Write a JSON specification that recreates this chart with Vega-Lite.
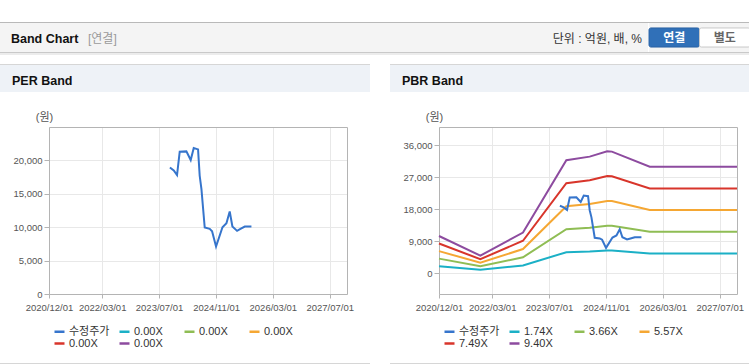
{
  "$schema": "https://vega.github.io/schema/vega-lite/v6.json",
  "padding": {"top": 22, "left": 0, "right": 0, "bottom": 0},
  "background": "#ffffff",
  "config": {
    "view": {"stroke": null},
    "font": "Liberation Sans, Noto Sans CJK KR",
    "concat": {"spacing": 0}
  },
  "datasets": {
    "price": [
      {"date": "2023-10-02", "series": "수정주가", "value": 18950},
      {"date": "2023-11-04", "series": "수정주가", "value": 18500},
      {"date": "2023-12-02", "series": "수정주가", "value": 17800},
      {"date": "2023-12-25", "series": "수정주가", "value": 21300},
      {"date": "2024-02-20", "series": "수정주가", "value": 21350},
      {"date": "2024-03-28", "series": "수정주가", "value": 20050},
      {"date": "2024-04-23", "series": "수정주가", "value": 21850},
      {"date": "2024-05-30", "series": "수정주가", "value": 21650},
      {"date": "2024-06-13", "series": "수정주가", "value": 17700},
      {"date": "2024-06-28", "series": "수정주가", "value": 15700},
      {"date": "2024-07-26", "series": "수정주가", "value": 9950},
      {"date": "2024-09-07", "series": "수정주가", "value": 9750},
      {"date": "2024-09-27", "series": "수정주가", "value": 9400},
      {"date": "2024-10-31", "series": "수정주가", "value": 7100},
      {"date": "2024-12-25", "series": "수정주가", "value": 10000},
      {"date": "2025-01-28", "series": "수정주가", "value": 10600},
      {"date": "2025-02-25", "series": "수정주가", "value": 12350},
      {"date": "2025-03-20", "series": "수정주가", "value": 10100},
      {"date": "2025-04-29", "series": "수정주가", "value": 9450},
      {"date": "2025-05-28", "series": "수정주가", "value": 9750},
      {"date": "2025-07-04", "series": "수정주가", "value": 10100},
      {"date": "2025-08-30", "series": "수정주가", "value": 10100}
    ],
    "perBands": [],
    "bands": [
      {"date": "2020-12-01", "series": "1.74X", "value": 1931},
      {"date": "2021-11-20", "series": "1.74X", "value": 908},
      {"date": "2022-11-20", "series": "1.74X", "value": 2114},
      {"date": "2023-11-26", "series": "1.74X", "value": 5881},
      {"date": "2024-06-13", "series": "1.74X", "value": 6073},
      {"date": "2024-11-10", "series": "1.74X", "value": 6351},
      {"date": "2024-12-20", "series": "1.74X", "value": 6334},
      {"date": "2025-11-09", "series": "1.74X", "value": 5542},
      {"date": "2027-11-26", "series": "1.74X", "value": 5542},
      {"date": "2020-12-01", "series": "3.66X", "value": 4063},
      {"date": "2021-11-20", "series": "3.66X", "value": 1911},
      {"date": "2022-11-20", "series": "3.66X", "value": 4447},
      {"date": "2023-11-26", "series": "3.66X", "value": 12371},
      {"date": "2024-06-13", "series": "3.66X", "value": 12773},
      {"date": "2024-11-10", "series": "3.66X", "value": 13359},
      {"date": "2024-12-20", "series": "3.66X", "value": 13322},
      {"date": "2025-11-09", "series": "3.66X", "value": 11657},
      {"date": "2027-11-26", "series": "3.66X", "value": 11657},
      {"date": "2020-12-01", "series": "5.57X", "value": 6183},
      {"date": "2021-11-20", "series": "5.57X", "value": 2908},
      {"date": "2022-11-20", "series": "5.57X", "value": 6768},
      {"date": "2023-11-26", "series": "5.57X", "value": 18827},
      {"date": "2024-06-13", "series": "5.57X", "value": 19439},
      {"date": "2024-11-10", "series": "5.57X", "value": 20331},
      {"date": "2024-12-20", "series": "5.57X", "value": 20275},
      {"date": "2025-11-09", "series": "5.57X", "value": 17741},
      {"date": "2027-11-26", "series": "5.57X", "value": 17741},
      {"date": "2020-12-01", "series": "7.49X", "value": 8314},
      {"date": "2021-11-20", "series": "7.49X", "value": 3910},
      {"date": "2022-11-20", "series": "7.49X", "value": 9100},
      {"date": "2023-11-26", "series": "7.49X", "value": 25316},
      {"date": "2024-06-13", "series": "7.49X", "value": 26140},
      {"date": "2024-11-10", "series": "7.49X", "value": 27339},
      {"date": "2024-12-20", "series": "7.49X", "value": 27264},
      {"date": "2025-11-09", "series": "7.49X", "value": 23856},
      {"date": "2027-11-26", "series": "7.49X", "value": 23856},
      {"date": "2020-12-01", "series": "9.40X", "value": 10434},
      {"date": "2021-11-20", "series": "9.40X", "value": 4907},
      {"date": "2022-11-20", "series": "9.40X", "value": 11421},
      {"date": "2023-11-26", "series": "9.40X", "value": 31772},
      {"date": "2024-06-13", "series": "9.40X", "value": 32806},
      {"date": "2024-11-10", "series": "9.40X", "value": 34310},
      {"date": "2024-12-20", "series": "9.40X", "value": 34216},
      {"date": "2025-11-09", "series": "9.40X", "value": 29939},
      {"date": "2027-11-26", "series": "9.40X", "value": 29939}
    ]
  },
  "resolve": {"scale": {"color": "independent"}, "legend": {"color": "independent"}},
  "spacing": 9,
  "vconcat": [
    {
      "spacing": 0,
      "vconcat": [
        {"width": 749, "height": 1, "data": {"values": [{}]}, "mark": {"type": "rect", "color": "#b9b9b9"}},
        {
          "spacing": 0,
          "hconcat": [
            {
              "width": 88, "height": 29,
              "data": {"values": [{}]},
              "mark": {"type": "rect", "color": "#f4f4f4"},
              "title": {"text": "Band Chart", "anchor": "start", "frame": "group", "orient": "top", "offset": -32, "baseline": "alphabetic", "dx": 11, "fontSize": 12.5, "fontWeight": "bold", "color": "#111111"}
            },
            {
              "width": 380, "height": 29,
              "data": {"values": [{}]},
              "mark": {"type": "rect", "color": "#f4f4f4"},
              "title": {"text": "[연결]", "anchor": "start", "frame": "group", "orient": "top", "offset": -32, "baseline": "alphabetic", "dx": 0, "fontSize": 12, "fontWeight": "normal", "color": "#9a9a9a"}
            },
            {
              "width": 180, "height": 29,
              "data": {"values": [{}]},
              "mark": {"type": "rect", "color": "#f4f4f4"},
              "title": {"text": "단위 : 억원, 배, %", "anchor": "end", "frame": "group", "orient": "top", "offset": -32, "baseline": "alphabetic", "dx": -6, "fontSize": 12, "fontWeight": "normal", "color": "#333333"}
            },
            {
              "width": 101, "height": 29,
              "data": {"values": [{"btn": "연결", "grp": "b"}, {"btn": "별도", "grp": "b"}]},
              "view": {"fill": "#f4f4f4", "stroke": null},
              "encoding": {
                "x": {"field": "btn", "type": "nominal", "sort": null, "scale": {"paddingInner": 0, "paddingOuter": 0}, "axis": null},
                "y": {"field": "grp", "type": "nominal", "scale": {"paddingInner": 0, "paddingOuter": 0.26}, "axis": null}
              },
              "layer": [
                {
                  "mark": {"type": "bar", "cornerRadius": 2, "strokeWidth": 1},
                  "encoding": {
                    "fill": {"condition": {"test": "datum.btn === '연결'", "value": "#3070b8"}, "value": "#ffffff"},
                    "stroke": {"condition": {"test": "datum.btn === '연결'", "value": "#2a62a4"}, "value": "#c8c8c8"}
                  }
                },
                {
                  "mark": {"type": "text", "fontSize": 12, "fontWeight": "bold"},
                  "encoding": {
                    "text": {"field": "btn"},
                    "color": {"condition": {"test": "datum.btn === '연결'", "value": "#ffffff"}, "value": "#666666"}
                  }
                }
              ]
            }
          ]
        },
        {"width": 749, "height": 1, "data": {"values": [{}]}, "mark": {"type": "rect", "color": "#c9c9c9"}},
        {"width": 749, "height": 2, "data": {"values": [{}]}, "mark": {"type": "rect", "color": "#ececec"}}
      ]
    },
    {
      "spacing": 20,
      "resolve": {"scale": {"color": "independent"}, "legend": {"color": "independent"}},
      "hconcat": [
        {
          "spacing": 14,
          "resolve": {"scale": {"color": "independent"}, "legend": {"color": "independent"}},
          "vconcat": [
            {
              "spacing": 19,
              "resolve": {"scale": {"color": "independent"}, "legend": {"color": "independent"}},
              "vconcat": [
                {
                  "spacing": 0,
                  "vconcat": [
                    {"width": 370, "height": 1, "data": {"values": [{}]}, "mark": {"type": "rect", "color": "#d6d6d6"}},
                    {
                      "width": 370, "height": 27,
                      "data": {"values": [{}]},
                      "mark": {"type": "rect", "color": "#eef2f7"},
                      "title": {"text": "PER Band", "anchor": "start", "frame": "group", "orient": "top", "offset": -32, "baseline": "alphabetic", "dx": 12, "fontSize": 12.5, "fontWeight": "bold", "color": "#111111"}
                    }
                  ]
                },
                {
                  "width": 370, "height": 167,
                  "encoding": {
                    "x": {
                      "field": "date", "type": "temporal",
                      "scale": {"type": "utc", "nice": false, "range": [49, 347], "domain": [{"year": 2020, "month": 12, "date": 1, "utc": true}, {"year": 2027, "month": 11, "date": 26, "utc": true}]}
                    },
                    "y": {
                      "field": "value", "type": "quantitative",
                      "scale": {"domain": [0, 25000], "nice": false, "zero": false}
                    },
                    "color": {
                      "field": "series", "type": "nominal",
                      "scale": {"domain": ["수정주가", "PER 1", "PER 2", "PER 3", "PER 4", "PER 5"], "range": ["#3675cc", "#1bb0c6", "#8fbd54", "#f5a733", "#d8352b", "#8d4b9f"]},
                      "legend": {
                        "orient": "none", "legendX": 53, "legendY": 198, "direction": "horizontal", "columns": 4, "gridAlign": "all",
                        "title": null, "padding": 0, "symbolType": "stroke", "symbolSize": 100, "symbolStrokeWidth": 2.5,
                        "labelFontSize": 11, "labelColor": "#333333", "labelOffset": 3, "columnPadding": 4, "rowPadding": 0,
                        "labelExpr": "datum.label == '수정주가' ? '수정주가' : '0.00X'"
                      }
                    }
                  },
                  "layer": [
                    {
                      "data": {"name": "perBands"},
                      "mark": {"type": "line", "strokeWidth": 2},
                      "encoding": {
                        "x": {
                          "field": "date", "type": "temporal",
                          "axis": {
                            "orient": "bottom",
                            "values": [
                              {"year": 2020, "month": 12, "date": 1, "utc": true},
                              {"year": 2022, "month": 3, "date": 1, "utc": true},
                              {"year": 2023, "month": 7, "date": 1, "utc": true},
                              {"year": 2024, "month": 11, "date": 1, "utc": true},
                              {"year": 2026, "month": 3, "date": 1, "utc": true},
                              {"year": 2027, "month": 7, "date": 1, "utc": true}
                            ],
                            "format": "%Y/%m/%d", "title": null,
                            "labelFontSize": 9.5, "labelColor": "#555555", "labelPadding": 4, "labelOverlap": false, "labelFlush": false,
                            "tickSize": 4, "tickColor": "#b4b4b4", "domainColor": "#b4b4b4", "gridColor": "#e8e8e8"
                          }
                        },
                        "y": {
                          "field": "value", "type": "quantitative",
                          "axis": {
                            "orient": "left", "offset": -49,
                            "values": [0, 5000, 10000, 15000, 20000], "format": ",d",
                            "title": "(원)", "titleAngle": 0, "titleX": -5, "titleY": -10, "titleAlign": "center", "titleBaseline": "middle",
                            "titleFontSize": 11, "titleFontWeight": "normal", "titleColor": "#555555",
                            "labelFontSize": 9.5, "labelColor": "#555555", "labelPadding": 2,
                            "tickSize": 5, "tickColor": "#b4b4b4", "domainColor": "#b4b4b4", "gridColor": "#e8e8e8"
                          }
                        }
                      }
                    },
                    {
                      "data": {"name": "price"},
                      "mark": {"type": "line", "strokeWidth": 2},
                      "encoding": {
                        "x": {"field": "date", "type": "temporal", "axis": {"orient": "top", "labels": false, "ticks": false, "grid": false, "domainColor": "#b4b4b4", "title": null}},
                        "y": {"field": "value", "type": "quantitative", "axis": {"orient": "right", "offset": -23, "labels": false, "ticks": false, "grid": false, "domainColor": "#b4b4b4", "title": null}}
                      }
                    }
                  ]
                }
              ]
            },
            {"width": 370, "height": 1, "data": {"values": [{}]}, "mark": {"type": "rect", "color": "#d6d6d6"}}
          ]
        },
        {
          "spacing": 14,
          "resolve": {"scale": {"color": "independent"}, "legend": {"color": "independent"}},
          "vconcat": [
            {
              "spacing": 19,
              "resolve": {"scale": {"color": "independent"}, "legend": {"color": "independent"}},
              "vconcat": [
                {
                  "spacing": 0,
                  "vconcat": [
                    {"width": 359, "height": 1, "data": {"values": [{}]}, "mark": {"type": "rect", "color": "#d6d6d6"}},
                    {
                      "width": 359, "height": 27,
                      "data": {"values": [{}]},
                      "mark": {"type": "rect", "color": "#eef2f7"},
                      "title": {"text": "PBR Band", "anchor": "start", "frame": "group", "orient": "top", "offset": -32, "baseline": "alphabetic", "dx": 12, "fontSize": 12.5, "fontWeight": "bold", "color": "#111111"}
                    }
                  ]
                },
                {
                  "width": 359, "height": 167,
                  "encoding": {
                    "x": {
                      "field": "date", "type": "temporal",
                      "scale": {"type": "utc", "nice": false, "range": [49, 347], "domain": [{"year": 2020, "month": 12, "date": 1, "utc": true}, {"year": 2027, "month": 11, "date": 26, "utc": true}]}
                    },
                    "y": {
                      "field": "value", "type": "quantitative",
                      "scale": {"domain": [-5900, 41150], "nice": false, "zero": false}
                    },
                    "color": {
                      "field": "series", "type": "nominal",
                      "scale": {"domain": ["수정주가", "1.74X", "3.66X", "5.57X", "7.49X", "9.40X"], "range": ["#3675cc", "#1bb0c6", "#8fbd54", "#f5a733", "#d8352b", "#8d4b9f"]},
                      "legend": {
                        "orient": "none", "legendX": 53, "legendY": 198, "direction": "horizontal", "columns": 4, "gridAlign": "all",
                        "title": null, "padding": 0, "symbolType": "stroke", "symbolSize": 100, "symbolStrokeWidth": 2.5,
                        "labelFontSize": 11, "labelColor": "#333333", "labelOffset": 3, "columnPadding": 4, "rowPadding": 0
                      }
                    }
                  },
                  "layer": [
                    {
                      "data": {"name": "bands"},
                      "mark": {"type": "line", "strokeWidth": 2},
                      "encoding": {
                        "x": {
                          "field": "date", "type": "temporal",
                          "axis": {
                            "orient": "bottom",
                            "values": [
                              {"year": 2020, "month": 12, "date": 1, "utc": true},
                              {"year": 2022, "month": 3, "date": 1, "utc": true},
                              {"year": 2023, "month": 7, "date": 1, "utc": true},
                              {"year": 2024, "month": 11, "date": 1, "utc": true},
                              {"year": 2026, "month": 3, "date": 1, "utc": true},
                              {"year": 2027, "month": 7, "date": 1, "utc": true}
                            ],
                            "format": "%Y/%m/%d", "title": null,
                            "labelFontSize": 9.5, "labelColor": "#555555", "labelPadding": 4, "labelOverlap": false, "labelFlush": false,
                            "tickSize": 4, "tickColor": "#b4b4b4", "domainColor": "#b4b4b4", "gridColor": "#e8e8e8"
                          }
                        },
                        "y": {
                          "field": "value", "type": "quantitative",
                          "axis": {
                            "orient": "left", "offset": -49,
                            "values": [0, 9000, 18000, 27000, 36000], "format": ",d",
                            "title": "(원)", "titleAngle": 0, "titleX": -5, "titleY": -10, "titleAlign": "center", "titleBaseline": "middle",
                            "titleFontSize": 11, "titleFontWeight": "normal", "titleColor": "#555555",
                            "labelFontSize": 9.5, "labelColor": "#555555", "labelPadding": 2,
                            "tickSize": 5, "tickColor": "#b4b4b4", "domainColor": "#b4b4b4", "gridColor": "#e8e8e8"
                          }
                        }
                      }
                    },
                    {
                      "data": {"name": "price"},
                      "mark": {"type": "line", "strokeWidth": 2},
                      "encoding": {
                        "x": {"field": "date", "type": "temporal", "axis": {"orient": "top", "labels": false, "ticks": false, "grid": false, "domainColor": "#b4b4b4", "title": null}},
                        "y": {"field": "value", "type": "quantitative", "axis": {"orient": "right", "offset": -12, "labels": false, "ticks": false, "grid": false, "domainColor": "#b4b4b4", "title": null}}
                      }
                    }
                  ]
                }
              ]
            },
            {"width": 359, "height": 1, "data": {"values": [{}]}, "mark": {"type": "rect", "color": "#d6d6d6"}}
          ]
        }
      ]
    }
  ]
}
